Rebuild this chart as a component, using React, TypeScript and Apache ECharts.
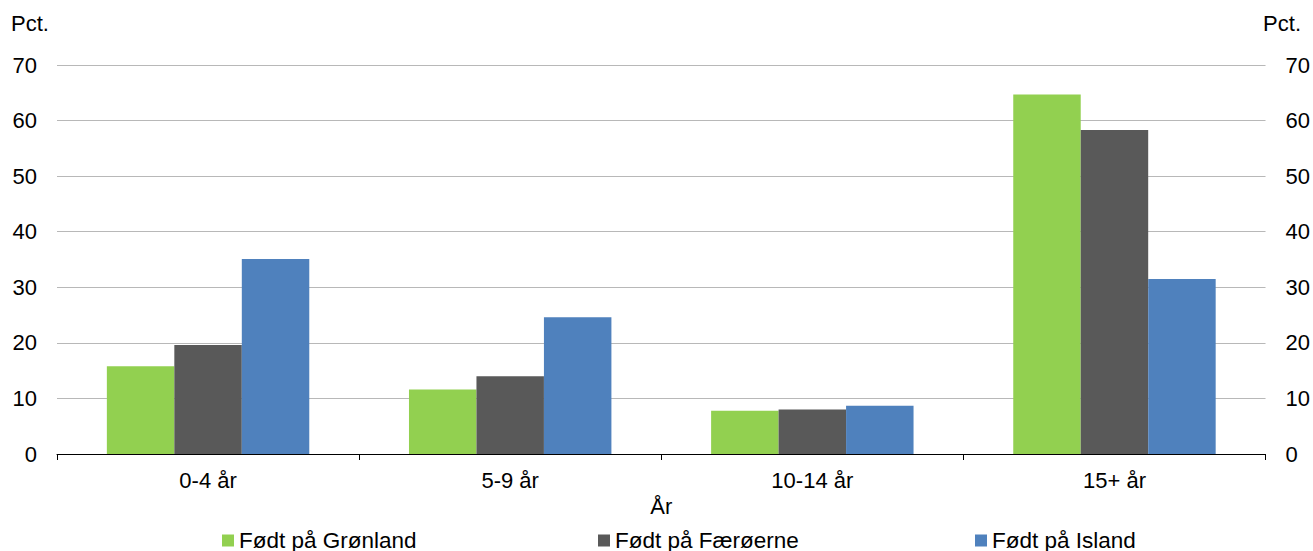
import React, { useEffect, useRef } from "react";
import * as echarts from "echarts";

const categories = ["0-4 år", "5-9 år", "10-14 år", "15+ år"];
const seriesNames = ["Født på Grønland", "Født på Færøerne", "Født på Island"];
const groenland = [15.8, 11.6, 7.8, 64.7];
const faeroerne = [19.6, 14.0, 8.0, 58.3];
const island = [35.1, 24.6, 8.7, 31.5];
const colors = ["#92d050", "#595959", "#4f81bd"];

const FONT = "Liberation Sans, Arial, sans-serif";
const FS = 22;

export default function App() {
  const ref = useRef<HTMLDivElement>(null);
  useEffect(() => {
    if (!ref.current) return;
    const chart = echarts.init(ref.current, undefined, { renderer: "svg" });
    const values = [groenland, faeroerne, island];
    const legendLefts = [222, 598, 975];
    chart.setOption({
      animation: false,
      textStyle: { fontFamily: FONT, color: "#000" },
      grid: { left: 57, right: 47, top: 65, bottom: 97, containLabel: false },
      legend: seriesNames.map((n, i) => ({
        data: [n],
        left: legendLefts[i],
        top: 529,
        padding: 0,
        itemWidth: 12,
        itemHeight: 12,
        icon: "rect",
        textStyle: { fontFamily: FONT, fontSize: 22.5, color: "#000" },
      })),
      graphic: [
        { type: "text", left: 11, top: 12, style: { text: "Pct.", font: `${FS}px ${FONT}`, fill: "#000" } },
        { type: "text", right: 12, top: 12, style: { text: "Pct.", font: `${FS}px ${FONT}`, fill: "#000" } },
      ],
      xAxis: {
        type: "category",
        data: categories,
        name: "År",
        nameLocation: "middle",
        nameGap: 40,
        nameTextStyle: { fontFamily: FONT, fontSize: FS, color: "#000" },
        axisLine: { lineStyle: { color: "#000", width: 1 } },
        axisTick: { show: true, length: 6, lineStyle: { color: "#000" } },
        axisLabel: { fontFamily: FONT, fontSize: FS, color: "#000", margin: 15 },
      },
      yAxis: [
        {
          type: "value",
          min: 0,
          max: 70,
          interval: 10,
          axisLine: { show: false },
          axisTick: { show: false },
          axisLabel: { fontFamily: FONT, fontSize: FS, color: "#000", margin: 20 },
          splitLine: { lineStyle: { color: "#b8b8b8", width: 1 } },
        },
        {
          type: "value",
          position: "right",
          min: 0,
          max: 70,
          interval: 10,
          axisLine: { show: false },
          axisTick: { show: false },
          axisLabel: { fontFamily: FONT, fontSize: FS, color: "#000", margin: 20 },
          splitLine: { show: false },
        },
      ],
      series: seriesNames.map((n, i) => ({
        name: n,
        type: "bar",
        data: values[i],
        barGap: "0%",
        barCategoryGap: "33%",
        itemStyle: { color: colors[i] },
      })),
    });
    return () => chart.dispose();
  }, []);
  return <div ref={ref} style={{ width: 1313, height: 551, position: "absolute", left: 0, top: 0 }} />;
}
